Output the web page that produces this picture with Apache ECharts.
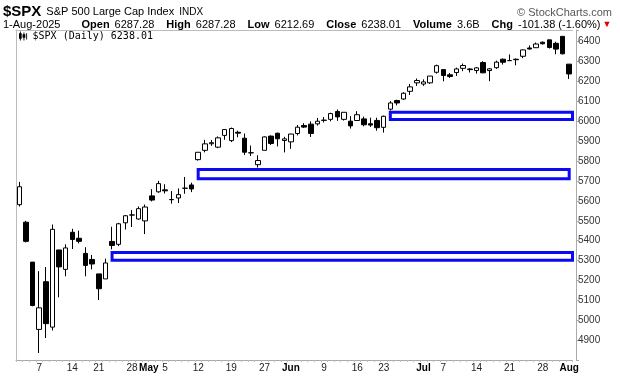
<!DOCTYPE html>
<html>
<head>
<meta charset="utf-8">
<script src="https://cdn.jsdelivr.net/npm/echarts@6/dist/echarts.min.js"></script>
<style>
  html, body { margin: 0; padding: 0; background: #fff; }
  #chart { width: 620px; height: 376px; }
</style>
</head>
<body>
<div id="chart"></div>
<script>
// trading days Apr 2 - Aug 1 2025
const days = [
  '4/2','4/3','4/4','4/7','4/8','4/9','4/10','4/11','4/14','4/15','4/16','4/17','4/21','4/22','4/23','4/24','4/25','4/28','4/29','4/30',
  '5/1','5/2','5/5','5/6','5/7','5/8','5/9','5/12','5/13','5/14','5/15','5/16','5/19','5/20','5/21','5/22','5/23','5/27','5/28','5/29','5/30',
  '6/2','6/3','6/4','6/5','6/6','6/9','6/10','6/11','6/12','6/13','6/16','6/17','6/18','6/20','6/23','6/24','6/25','6/26','6/27','6/30',
  '7/1','7/2','7/3','7/7','7/8','7/9','7/10','7/11','7/14','7/15','7/16','7/17','7/18','7/21','7/22','7/23','7/24','7/25','7/28','7/29','7/30','7/31',
  '8/1'
];
const opens = [
  5580.8,5492.7,5292.1,4953.8,5193.6,4965.3,5353.2,5255.6,5442.0,5412.0,5335.8,5305.5,5232.9,5207.7,5395.9,5381.4,5489.7,5529.2,5508.9,5499.4,
  5625.1,5645.6,5655.3,5605.9,5614.5,5663.4,5680.0,5807.2,5854.1,5887.3,5870.0,5929.1,5902.9,5944.7,5915.0,5841.3,5781.9,5854.1,5925.5,5939.9,5903.7,
  5896.7,5938.6,5978.9,5985.7,5987.1,6004.6,6009.9,6049.4,6009.9,6000.6,6004.0,6012.2,5987.9,6004.4,5969.7,6061.2,6104.6,6112.1,6150.7,6193.4,
  6187.3,6193.4,6246.5,6259.8,6233.7,6245.0,6266.3,6263.0,6255.2,6295.3,6255.0,6269.6,6312.0,6304.7,6312.0,6326.9,6368.6,6370.0,6397.7,6409.4,6392.0,6427.0,
  6287.3
];
const highs = [
  5695.3,5499.5,5292.1,5246.6,5267.5,5481.3,5353.2,5381.5,5459.5,5450.4,5367.2,5328.3,5232.9,5309.6,5469.7,5489.4,5528.1,5553.7,5572.0,5581.8,
  5658.9,5700.7,5683.7,5649.0,5662.5,5720.1,5691.7,5844.2,5906.6,5906.3,5924.0,5958.6,5968.6,5953.1,5938.4,5878.1,5829.5,5924.3,5929.0,5943.1,5922.1,
  5937.4,5981.4,5990.5,5999.7,6016.9,6021.3,6043.0,6059.4,6045.4,6026.2,6050.8,6023.3,6018.3,6018.2,6028.8,6101.5,6108.5,6146.5,6187.7,6215.1,
  6210.8,6227.6,6284.7,6262.3,6242.7,6269.9,6290.2,6267.0,6273.3,6302.0,6268.1,6304.9,6315.6,6336.1,6316.1,6360.6,6381.3,6395.8,6401.1,6409.8,6400.0,6427.0,
  6287.3
];
const lows = [
  5571.5,5390.8,5069.9,4835.0,4910.4,4948.4,5115.3,5220.8,5358.0,5386.4,5220.8,5255.6,5101.6,5207.7,5356.4,5372.0,5455.9,5468.6,5505.7,5433.2,
  5597.4,5640.6,5637.0,5586.1,5589.1,5635.6,5644.1,5802.5,5843.8,5876.9,5865.0,5907.3,5895.7,5919.6,5830.9,5825.8,5767.4,5854.1,5881.0,5873.8,5843.7,
  5861.4,5929.0,5966.1,5921.2,5978.6,5994.2,6000.3,6002.3,6003.9,5963.2,6004.0,5974.8,5971.9,5952.6,5943.2,6054.4,6080.1,6107.9,6132.4,6178.0,
  6178.0,6188.3,6240.0,6201.0,6218.0,6228.2,6252.0,6245.4,6239.9,6241.6,6201.6,6263.8,6285.3,6303.8,6281.7,6317.5,6360.6,6368.5,6385.8,6365.8,6337.0,6336.1,
  6212.7
];
const closes = [
  5671.0,5396.5,5074.1,5062.3,4982.8,5456.9,5268.1,5363.4,5406.0,5396.6,5275.7,5282.7,5158.2,5287.8,5375.9,5484.8,5525.2,5528.8,5560.8,5569.1,
  5604.1,5686.7,5650.4,5606.9,5631.3,5663.9,5659.9,5844.2,5886.6,5892.6,5916.9,5958.4,5963.6,5940.5,5844.6,5842.0,5802.8,5921.5,5888.6,5912.2,5911.7,
  5935.9,5970.4,5970.8,5939.3,6000.4,6005.9,6038.8,6022.2,6045.3,5977.0,6033.1,5982.7,5980.9,5967.8,6025.2,6092.2,6092.2,6141.0,6173.1,6205.0,
  6198.0,6227.4,6279.4,6230.0,6225.5,6263.3,6280.5,6259.8,6268.6,6243.8,6263.7,6297.4,6296.8,6305.6,6309.6,6358.9,6363.4,6388.6,6389.8,6370.9,6362.9,6339.4,
  6238.0
];

// x labels: which day gets which text
const xLabelDays = ['4/7','4/14','4/21','4/28','5/1','5/5','5/12','5/19','5/27','6/2','6/9','6/16','6/23','7/1','7/7','7/14','7/21','7/28','8/1'];
const xLabelText = ['7','14','21','28','May','5','12','19','27','Jun','9','16','23','Jul','7','14','21','28','Aug'];
const yTickLabels = [4900,5000,5100,5200,5300,5400,5500,5600,5700,5800,5900,6000,6100,6200,6300,6400];

// gap boxes (blue rectangles)
const gapStart = ['4/23','5/12','6/24'];
const gapEnd = [null,'8/1',null];
const gapTop = [5340,5758,6046];
const gapBottom = [5302,5711,6009];

const seriesName = '$SPX (Daily) 6238.01';
const candleData = days.map((d, i) => [opens[i], closes[i], lows[i], highs[i]]);

const gapAreas = gapStart.map((s, i) => {
  const end = { yAxis: gapBottom[i] };
  if (gapEnd[i]) end.xAxis = gapEnd[i];
  return [{ xAxis: s, yAxis: gapTop[i] }, end];
});

const FONT = '"Liberation Sans", Arial, sans-serif';
const txt = (size, bold, color) => ({
  fontFamily: FONT, fontSize: size, fontWeight: bold ? 'bold' : 'normal', color: color || '#000'
});
const chart = echarts.init(document.getElementById('chart'));

const option = {
  animation: false,
  title: [
    {
      left: 3, top: 3, padding: 0,
      text: '{a|$SPX} {b|S&P 500 Large Cap Index} {c|INDX}',
      textStyle: {
        fontWeight: 'normal',
        rich: { a: txt(15, true), b: txt(11, false), c: txt(10, false) }
      }
    },
    {
      right: 8, top: 7, padding: 0,
      text: '© StockCharts.com',
      textStyle: txt(11, false, '#555')
    },
    {
      left: 3, top: 16, padding: 0,
      text: '{d|1-Aug-2025}{g1| }{k|Open} {d|6287.28}{g| }{k|High} {d|6287.28}{g| }{k|Low} {d|6212.69}{g| }' +
            '{k|Close} {d|6238.01}{g| }{k|Volume} {d|3.6B}{g| }{k|Chg} {d|-101.38 (-1.60%)}{r|▼}',
      textStyle: {
        fontWeight: 'normal',
        rich: {
          d: txt(11, false),
          k: txt(11, true),
          g1: { width: 21 },
          g: { width: 12 },
          r: Object.assign(txt(9, false, '#d00'), { padding: [0, 0, 0, 2] })
        }
      }
    }
  ],
  legend: {
    left: 19, top: 31, padding: 0,
    data: [seriesName],
    icon: 'path://M1,0h1v10h-1z M0,2h3v6h-3z M5,1h1v9h-1z M4,3h3v4h-3z M8,2h1v7h-1z',
    itemWidth: 9, itemHeight: 9,
    itemStyle: { color: '#000', borderWidth: 0 },
    textStyle: { fontFamily: '"DejaVu Sans Mono", monospace', fontSize: 10, color: '#000' }
  },
  grid: { left: 16, right: 47.5, top: 30, bottom: 16 },
  xAxis: [
    {
      type: 'category',
      data: days,
      boundaryGap: true,
      axisLine: { lineStyle: { color: '#aaa', width: 1 } },
      axisTick: { show: true, interval: 0, length: 2, lineStyle: { color: '#bbb' } },
      axisLabel: {
        interval: 0,
        hideOverlap: false,
        margin: 3,
        fontFamily: FONT,
        fontSize: 10,
        color: '#222',
        formatter: (v) => {
          const k = xLabelDays.indexOf(v);
          if (k < 0) return '';
          const t = xLabelText[k];
          if (t === 'May') return '{mm|' + t + '}';
          if (isNaN(+t)) return '{m|' + t + '}';
          return t;
        },
        rich: {
          m: txt(10, true),
          mm: Object.assign(txt(10, true), { padding: [0, 6, 0, 0] })
        }
      },
      splitLine: { show: false }
    },
    {
      type: 'category',
      data: days,
      position: 'top',
      axisLine: { lineStyle: { color: '#bbb', width: 1 } },
      axisTick: { show: false },
      axisLabel: { show: false },
      splitLine: { show: false }
    }
  ],
  yAxis: [
    {
      type: 'value',
      position: 'right',
      offset: 3.5,
      min: 4800,
      max: 6459,
      interval: 100,
      splitLine: { show: false },
      axisLine: { show: true, lineStyle: { color: '#aaa' } },
      axisTick: { show: true, length: 3, lineStyle: { color: '#aaa' } },
      axisLabel: {
        margin: 2,
        fontFamily: FONT,
        fontSize: 10,
        color: '#333',
        formatter: (v) => (yTickLabels.indexOf(v) >= 0 ? String(v) : '')
      }
    },
    {
      type: 'value',
      position: 'left',
      min: 4800,
      max: 6459,
      splitLine: { show: false },
      axisLine: { show: true, lineStyle: { color: '#bbb' } },
      axisTick: { show: false },
      axisLabel: { show: false }
    }
  ],
  series: [
    {
      name: seriesName,
      type: 'candlestick',
      xAxisIndex: 0,
      yAxisIndex: 0,
      data: candleData,
      barWidth: 5,
      itemStyle: {
        color: '#fff',
        color0: '#000',
        borderColor: '#000',
        borderColor0: '#000',
        borderWidth: 1
      },
      markArea: {
        silent: true,
        label: { show: false },
        itemStyle: { color: 'rgba(0,0,0,0)', borderColor: '#0a0af5', borderWidth: 3 },
        data: gapAreas
      }
    }
  ]
};

chart.setOption(option);
</script>
</body>
</html>
